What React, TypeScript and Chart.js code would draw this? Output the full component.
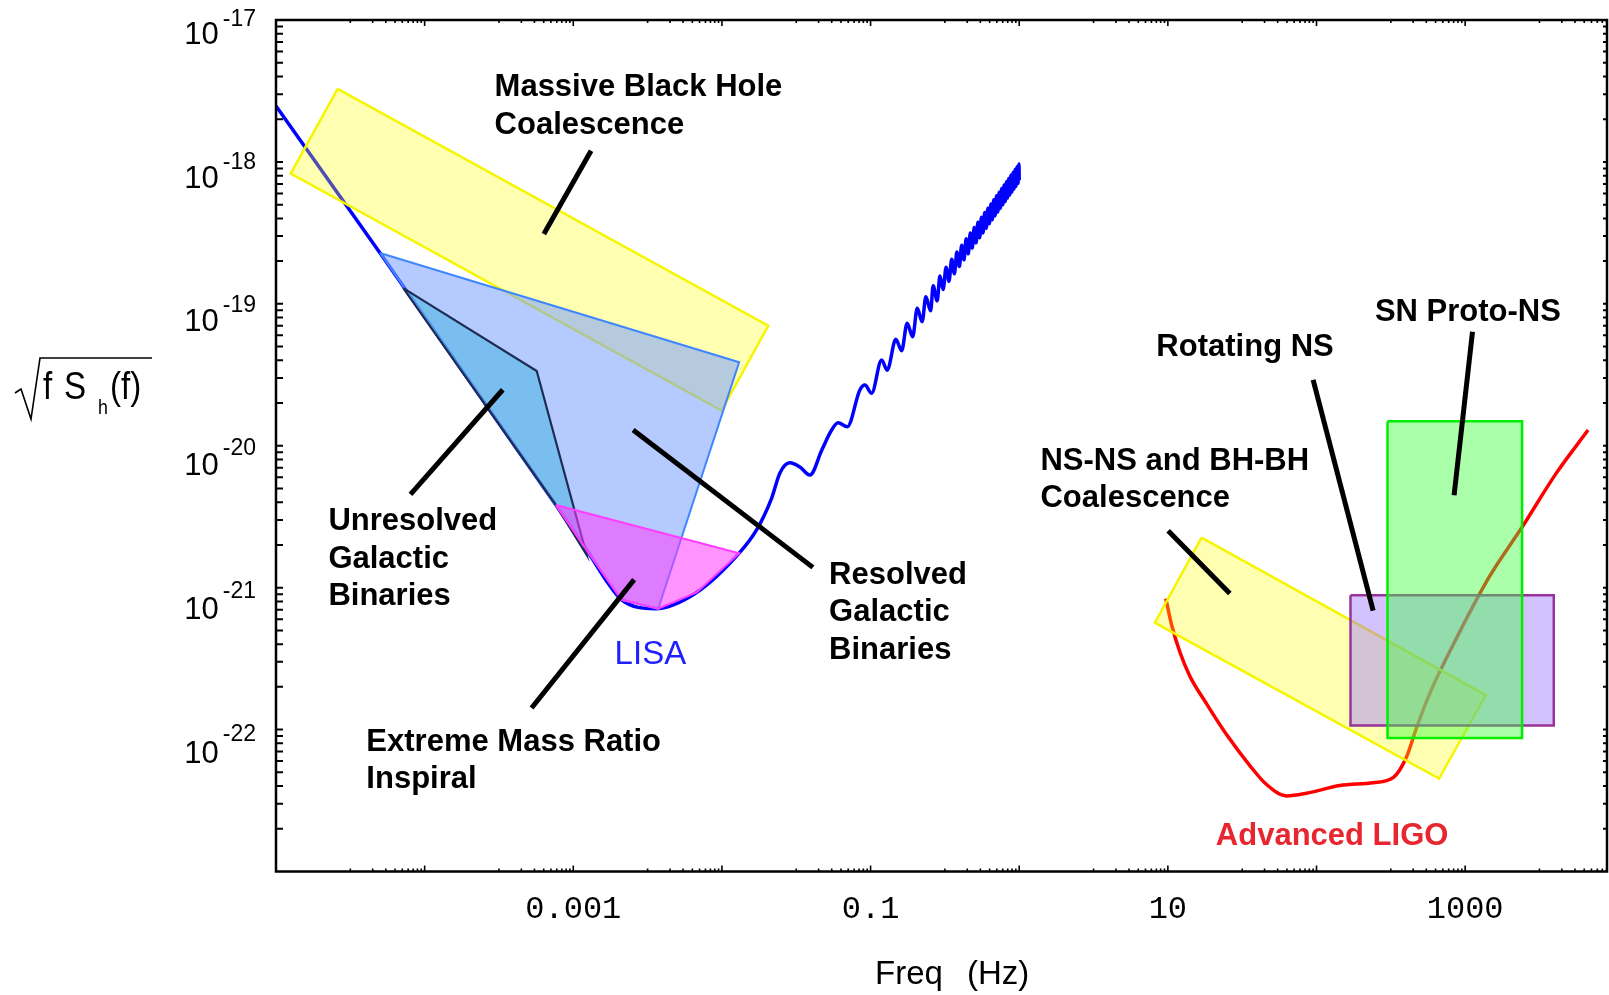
import { useEffect, useRef } from 'react';
import { Chart, registerables } from 'chart.js';

Chart.register(...registerables);

// ---------- axis ranges & tick labels ----------
const xMin = 1e-5;
const xMax = 9000;
const yMin = 1e-23;
const yMax = 1e-17;
const xTickDecades = [-5, -4, -3, -2, -1, 0, 1, 2, 3, 4];
const yTickDecades = [-23, -22, -21, -20, -19, -18];
const xLabelValues = [0.001, 0.1, 10, 1000];
const xLabelTexts = ['0.001', '0.1', '10', '1000'];
const yLabelExps = [-17, -18, -19, -20, -21, -22];

// ---------- LISA sensitivity curve ----------
const lisaFreq = [
  1.0e-5, 5.01e-5, 7.64e-4, 1.294e-3, 1.66e-3, 2.113e-3, 3.54e-3, 6.76e-3, 1.306e-2, 1.71e-2, 2.158e-2, 2.455e-2,
  2.864e-2, 3.35e-2, 3.908e-2, 4.699e-2, 5.47e-2, 6.053e-2, 6.966e-2, 8.472e-2, 9.162e-2, 0.1016, 0.1186, 0.1294,
  0.1479, 0.1618, 0.1762, 0.1919, 0.2061, 0.2223, 0.2355, 0.2535, 0.2636, 0.2805,
  0.2929, 0.3076, 0.3222, 0.3369, 0.3515, 0.3662, 0.3808, 0.3955, 0.4101, 0.4248, 0.4394, 0.4541, 0.4687, 0.4834,
  0.498, 0.5127, 0.5273, 0.542, 0.5566, 0.5713, 0.5859, 0.6006, 0.6152, 0.6299, 0.6445, 0.6592, 0.6738, 0.6885,
  0.7031, 0.7178, 0.7324, 0.7471, 0.7617, 0.7764, 0.791, 0.8057, 0.8203, 0.835, 0.8496, 0.8643, 0.8789, 0.8936,
  0.9082, 0.9229, 0.9375, 0.9522, 0.9668, 0.9815, 0.9961, 1.0,
];
const lisaStrain = [
  2.48e-18, 2.28e-19, 3.82e-21, 1.7e-21, 1.13e-21, 8.22e-22, 7.11e-22, 9.25e-22, 1.75e-21, 2.55e-21, 4.26e-21, 6.43e-21,
  7.59e-21, 7.08e-21, 6.22e-21, 9.33e-21, 1.29e-20, 1.45e-20, 1.36e-20, 2.47e-20, 2.68e-20, 2.34e-20, 4.02e-20, 3.41e-20,
  5.62e-20, 4.68e-20, 7.29e-20, 5.86e-20, 9.29e-20, 7.48e-20, 1.12e-19, 8.93e-20, 1.34e-19, 1.05e-19,
  1.57e-19, 1.26e-19, 1.81e-19, 1.44e-19, 2.06e-19, 1.63e-19, 2.32e-19, 1.83e-19, 2.59e-19, 2.04e-19, 2.87e-19, 2.25e-19,
  3.16e-19, 2.47e-19, 3.45e-19, 2.69e-19, 3.76e-19, 2.92e-19, 4.07e-19, 3.16e-19, 4.4e-19, 3.4e-19, 4.72e-19, 3.66e-19,
  5.06e-19, 3.91e-19, 5.41e-19, 4.17e-19, 5.77e-19, 4.44e-19, 6.12e-19, 4.71e-19, 6.5e-19, 4.99e-19, 6.87e-19, 5.27e-19,
  7.24e-19, 5.56e-19, 7.64e-19, 5.85e-19, 8.04e-19, 6.14e-19, 8.43e-19, 6.44e-19, 8.83e-19, 6.75e-19, 9.25e-19, 7.06e-19,
  9.66e-19, 7.41e-19,
];

// ---------- Advanced LIGO curve ----------
const ligoFreq = [9.69, 10.58, 12.04, 14.05, 18.21, 24.81, 35.6, 46.11, 62.85, 85.66, 143.5, 240.4, 327.6, 403.2, 470.8, 578.3, 874.3, 1465, 2393, 4116, 6714];
const ligoStrain = [8.38e-22, 5.5e-22, 3.52e-22, 2.38e-22, 1.52e-22, 9.22e-23, 5.58e-23, 4.1e-23, 3.41e-23, 3.56e-23, 4.03e-23, 4.22e-23, 4.58e-23, 6.41e-23, 1.03e-22, 1.8e-22, 4.41e-22, 1.21e-21, 2.63e-21, 6.44e-21, 1.29e-20];

// ---------- source regions (polygon corners) ----------
const mbhFreq = [2.6e-5, 2.048e-2, 9.95e-3, 1.256e-5];
const mbhStrain = [3.27e-18, 7.01e-20, 1.77e-20, 8.27e-19];
const resolvedFreq = [5.01e-5, 1.306e-2, 3.724e-3, 2.113e-3, 1.294e-3];
const resolvedStrain = [2.28e-19, 3.88e-20, 7.11e-22, 8.22e-22, 1.7e-21];
const unresolvedFreq = [7.18e-5, 5.675e-4, 1.23e-3, 7.64e-4];
const unresolvedStrain = [1.29e-19, 3.36e-20, 1.7e-21, 3.82e-21];
const emriFreq = [7.64e-4, 1.306e-2, 6.76e-3, 3.724e-3, 2.113e-3, 1.294e-3];
const emriStrain = [3.82e-21, 1.75e-21, 9.25e-22, 7.11e-22, 8.22e-22, 1.7e-21];
const nsnsFreq = [16.85, 1376.6, 667.7, 8.173];
const nsnsStrain = [2.25e-21, 1.75e-22, 4.51e-23, 5.67e-22];
const rotNsFreq = [169.3, 3946, 3946, 169.3];
const rotNsStrain = [8.85e-22, 8.85e-22, 1.07e-22, 1.07e-22];
const snFreq = [300.4, 2415, 2415, 300.4];
const snStrain = [1.49e-20, 1.49e-20, 8.71e-23, 8.71e-23];

// ---------- annotation leader lines ----------
const leaderFreq = [
  [1.317e-3, 6.34e-4], [8.03e-5, 3.353e-4], [2.527e-3, 4.09e-2], [2.566e-3, 5.24e-4],
  [10.04, 26.12], [94.9, 240.4], [1120.4, 842.6],
];
const leaderStrain = [
  [1.2e-18, 3.11e-19], [4.54e-21, 2.48e-20], [1.29e-20, 1.39e-21], [1.14e-21, 1.42e-22],
  [2.52e-21, 9.1e-22], [2.91e-20, 6.89e-22], [6.36e-20, 4.48e-21],
];

// ---------- text labels ----------
const labelLines = [
  ['Massive Black Hole', 'Coalescence'],
  ['Unresolved', 'Galactic', 'Binaries'],
  ['Resolved', 'Galactic', 'Binaries'],
  ['Extreme Mass Ratio', 'Inspiral'],
  ['LISA'],
  ['NS-NS and BH-BH', 'Coalescence'],
  ['Rotating NS'],
  ['SN Proto-NS'],
  ['Advanced LIGO'],
];
const labelFreq = [2.954e-4, 2.252e-5, 5.26e-2, 4.055e-5, 1.897e-3, 1.39, 8.368, 247.1, 21.02];
const labelStrain = [3.48e-18, 3.04e-21, 1.28e-21, 8.49e-23, 3.49e-22, 8.13e-21, 5.15e-20, 9.07e-20, 1.83e-23];
const labelColors = ['#000', '#000', '#000', '#000', '#1f1fff', '#000', '#000', '#000', '#e8262f'];
const labelBold = [true, true, true, true, false, true, true, true, true];

const pts = (fs: number[], hs: number[]) => fs.map((f, i) => ({ x: f, y: hs[i] }));
const closed = (fs: number[], hs: number[]) => pts([...fs, fs[0]], [...hs, hs[0]]);

const polygon = (fs: number[], hs: number[], fill: string, stroke: string, width: number, order: number) => ({
  data: closed(fs, hs),
  backgroundColor: fill,
  borderColor: stroke,
  borderWidth: width,
  fill: 'shape',
  pointRadius: 0,
  tension: 0,
  borderJoinStyle: 'miter',
  order,
});

const overlayPlugin = {
  id: 'overlay',
  afterDraw(chart: any) {
    const { ctx, chartArea: a, scales } = chart;
    const xs = scales.x;
    const ys = scales.y;
    ctx.save();
    ctx.strokeStyle = '#000';
    ctx.fillStyle = '#000';

    // x ticks (bottom & top, pointing inward)
    ctx.lineWidth = 1.6;
    ctx.beginPath();
    for (const n of xTickDecades) {
      for (let k = 1; k <= 10; k++) {
        const v = Math.pow(10, n) * Math.sqrt(k / 10);
        if (v <= xMin * 1.001 || v >= xMax) continue;
        const px = xs.getPixelForValue(v);
        const len = k === 10 ? 6 : 3;
        ctx.moveTo(px, a.bottom);
        ctx.lineTo(px, a.bottom - len);
        ctx.moveTo(px, a.top);
        ctx.lineTo(px, a.top + len);
      }
    }
    ctx.stroke();

    // y ticks (left & right)
    ctx.lineWidth = 2;
    ctx.beginPath();
    for (const d of yTickDecades) {
      for (let k = 1; k <= 9; k++) {
        const v = k * Math.pow(10, d);
        if (v <= yMin * 1.001) continue;
        const py = ys.getPixelForValue(v);
        ctx.moveTo(a.left, py);
        ctx.lineTo(a.left + 7, py);
        ctx.moveTo(a.right, py);
        ctx.lineTo(a.right - 4, py);
      }
    }
    ctx.stroke();

    // frame
    ctx.lineWidth = 2.5;
    ctx.strokeRect(a.left, a.top, a.right - a.left, a.bottom - a.top);

    // y tick labels 10^n
    yLabelExps.forEach((e, i) => {
      const py = ys.getPixelForValue(Math.pow(10, e));
      const sup = String(e);
      ctx.textAlign = 'right';
      ctx.textBaseline = 'alphabetic';
      ctx.font = '23px "Liberation Sans"';
      const sw = ctx.measureText(sup).width;
      const right = a.left - 20;
      ctx.fillText(sup, right, py - 2.5 + 1.2 * i + 0.358 * 23);
      ctx.font = '31px "Liberation Sans"';
      ctx.fillText('10', right - sw - 4, py + 12.5 + 2 * i + 0.358 * 31);
    });

    // x tick labels
    ctx.font = '32px "Liberation Mono"';
    ctx.textAlign = 'center';
    ctx.textBaseline = 'middle';
    xLabelValues.forEach((v, i) => {
      ctx.fillText(xLabelTexts[i], xs.getPixelForValue(v), a.bottom + 38);
    });

    // x axis title
    ctx.font = '33px "Liberation Sans"';
    ctx.textAlign = 'left';
    ctx.textBaseline = 'alphabetic';
    ctx.fillText('Freq', 875, 984);
    ctx.fillText('(Hz)', 967, 984);

    // y axis title: sqrt(f S_h(f))
    const drawNarrow = (t: string, x: number, y: number, size: number) => {
      ctx.save();
      ctx.translate(x, y);
      ctx.scale(0.85, 1);
      ctx.font = `${size}px "Liberation Sans"`;
      ctx.fillText(t, 0, 0);
      ctx.restore();
    };
    drawNarrow('f', 43, 399, 39);
    drawNarrow('S', 64, 399, 39);
    drawNarrow('h', 98, 414, 21);
    drawNarrow('(f)', 110, 399, 39);
    ctx.lineWidth = 1.6;
    ctx.beginPath();
    ctx.moveTo(15, 393);
    ctx.lineTo(21, 389);
    ctx.lineTo(31, 419);
    ctx.lineTo(40, 358);
    ctx.lineTo(152, 358);
    ctx.stroke();

    // region labels
    ctx.textAlign = 'left';
    labelLines.forEach((lines, i) => {
      const px = xs.getPixelForValue(labelFreq[i]);
      const py = ys.getPixelForValue(labelStrain[i]);
      const size = labelBold[i] ? 31 : 33;
      ctx.font = `${labelBold[i] ? 'bold ' : ''}${size}px "Liberation Sans"`;
      ctx.fillStyle = labelColors[i];
      lines.forEach((ln, j) => {
        ctx.fillText(ln, px, py + j * 37.5 + 0.358 * size);
      });
    });
    ctx.restore();
  },
};

export default function App() {
  const ref = useRef<HTMLCanvasElement>(null);
  useEffect(() => {
    if (!ref.current) return;
    const leaderSets = leaderFreq.map((fs, i) => ({
      data: pts(fs, leaderStrain[i]),
      borderColor: '#000',
      borderWidth: 5,
      borderCapStyle: 'butt',
      pointRadius: 0,
      fill: false,
      order: 0,
    }));
    const chart = new Chart(ref.current, {
      type: 'line',
      data: {
        datasets: [
          ...leaderSets,
          polygon(emriFreq, emriStrain, 'rgba(255,60,255,0.55)', '#ff3cff', 2, 1),
          polygon(unresolvedFreq, unresolvedStrain, 'rgba(84,181,230,0.6)', '#1f2d55', 2.2, 2),
          polygon(resolvedFreq, resolvedStrain, 'rgba(120,160,255,0.55)', '#3f86ff', 2, 3),
          polygon(mbhFreq, mbhStrain, 'rgba(255,255,0,0.3)', '#f5f500', 2.5, 4),
          polygon(snFreq, snStrain, 'rgba(60,255,60,0.43)', '#00ee00', 2.5, 1),
          polygon(rotNsFreq, rotNsStrain, 'rgba(160,120,255,0.45)', '#993399', 2.5, 2),
          polygon(nsnsFreq, nsnsStrain, 'rgba(255,255,0,0.3)', '#f5f500', 2.5, 3),
          {
            data: pts(lisaFreq, lisaStrain),
            borderColor: '#0000ff',
            borderWidth: 3.5,
            pointRadius: 0,
            fill: false,
            cubicInterpolationMode: 'monotone',
            order: 5,
          },
          {
            data: pts(ligoFreq, ligoStrain),
            borderColor: '#ff0000',
            borderWidth: 3.5,
            pointRadius: 0,
            fill: false,
            cubicInterpolationMode: 'monotone',
            order: 5,
          },
        ] as any,
      },
      options: {
        animation: false,
        responsive: false,
        devicePixelRatio: 1,
        events: [],
        layout: { padding: { left: 276, top: 20, right: 2, bottom: 123.5 } },
        plugins: { legend: { display: false }, tooltip: { enabled: false } },
        scales: {
          x: { type: 'logarithmic', min: xMin, max: xMax, display: false },
          y: { type: 'logarithmic', min: yMin, max: yMax, display: false },
        },
      } as any,
      plugins: [overlayPlugin],
    });
    return () => chart.destroy();
  }, []);
  return (
    <div style={{ position: 'absolute', left: 0, top: 0, width: 1609, height: 995, background: '#fff' }}>
      <canvas ref={ref} width={1609} height={995} style={{ display: 'block' }} />
    </div>
  );
}
